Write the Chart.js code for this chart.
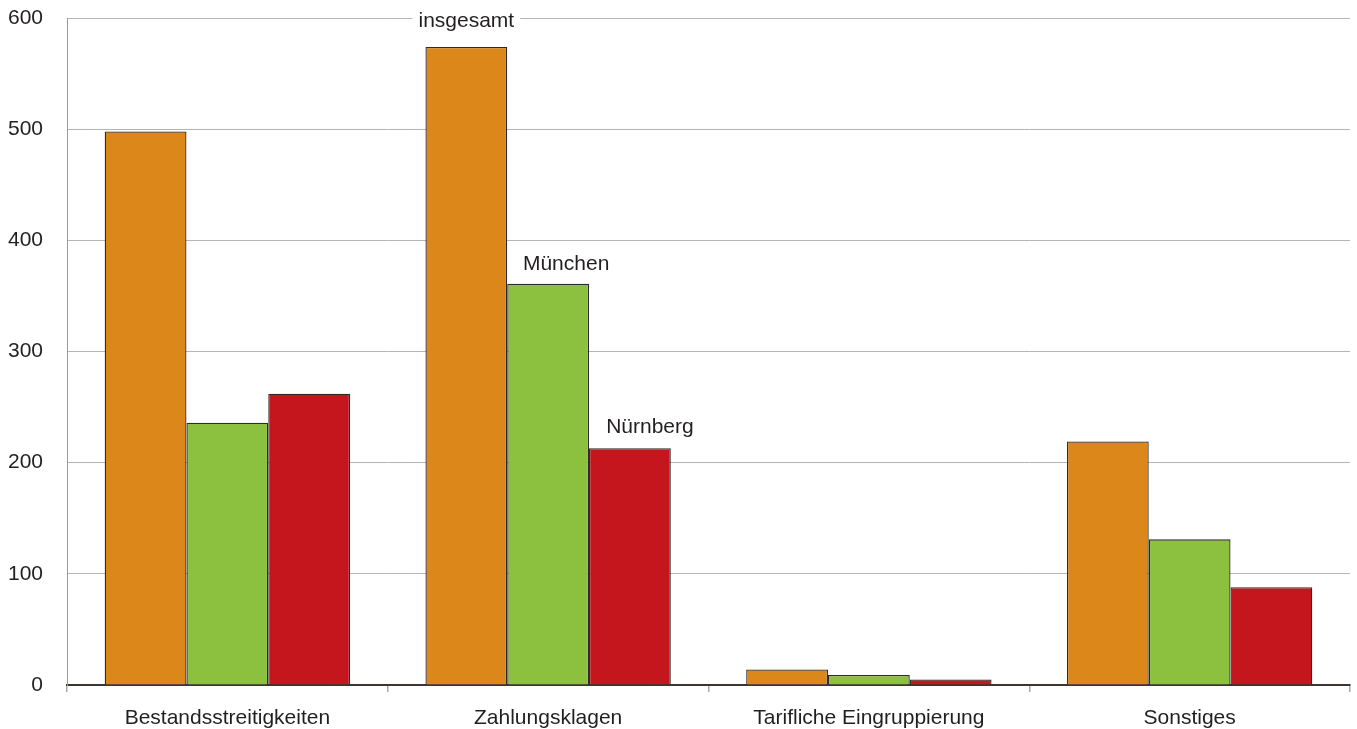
<!DOCTYPE html>
<html lang="de">
<head>
<meta charset="utf-8">
<title>Verfahren nach Gegenstand</title>
<script src="https://cdn.jsdelivr.net/npm/chart.js@4"></script>
<style>
  html, body { margin: 0; padding: 0; background: #fff; }
  #wrap { width: 1357px; height: 729px; }
</style>
</head>
<body>
<div id="wrap"><canvas id="chart" width="1357" height="729"></canvas></div>
<script>
// categories and values per region
const categories = ["Bestandsstreitigkeiten", "Zahlungsklagen", "Tarifliche Eingruppierung", "Sonstiges"];
const insgesamt = [498, 574, 14, 219];
const muenchen = [236, 361, 9, 131];
const nuernberg = [262, 213, 5, 88];
const seriesNames = ["insgesamt", "München", "Nürnberg"];
const yTicks = [0, 100, 200, 300, 400, 500, 600];

const FONT = "'Liberation Sans', Arial, sans-serif";
const TEXT = "#231f20";

// series names written next to the bars of the second category
const seriesLabels = {
  id: "seriesLabels",
  afterDatasetsDraw(chart) {
    const ctx = chart.ctx;
    const y = chart.scales.y;
    const spots = [
      { ds: 0, dx: 0, value: 600, box: true },
      { ds: 1, dx: 18, value: 381 },
      { ds: 2, dx: 20, value: 235 }
    ];
    ctx.save();
    ctx.font = "21px " + FONT;
    ctx.textAlign = "center";
    ctx.textBaseline = "middle";
    spots.forEach(s => {
      const bar = chart.getDatasetMeta(s.ds).data[1];
      const x = bar.x + s.dx;
      const py = y.getPixelForValue(s.value);
      const text = seriesNames[s.ds];
      if (s.box) {
        const w = ctx.measureText(text).width + 12;
        ctx.fillStyle = "#fff";
        ctx.fillRect(x - w / 2, py - 11, w, 22);
      }
      ctx.fillStyle = TEXT;
      ctx.fillText(text, x, py + 3);
    });
    ctx.restore();
  }
};

new Chart(document.getElementById("chart"), {
  type: "bar",
  data: {
    labels: categories,
    datasets: [
      { label: seriesNames[0], data: insgesamt, backgroundColor: "#db8719" },
      { label: seriesNames[1], data: muenchen, backgroundColor: "#8cc13f" },
      { label: seriesNames[2], data: nuernberg, backgroundColor: "#c4161c" }
    ].map(d => Object.assign(d, {
      borderColor: "#2f2a29",
      borderWidth: 1.3,
      borderSkipped: "bottom",
      categoryPercentage: 0.765,
      barPercentage: 1
    }))
  },
  options: {
    responsive: false,
    animation: false,
    layout: { padding: { top: 18, right: 7, left: 0, bottom: 0 } },
    plugins: { legend: { display: false }, tooltip: { enabled: false } },
    scales: {
      x: {
        grid: { drawOnChartArea: false, drawTicks: true, tickLength: 7, color: "#a8a8a8", lineWidth: 1.5, offset: true },
        border: { display: true, color: "#3b3534", width: 2 },
        ticks: { color: TEXT, font: { family: FONT, size: 21 }, padding: 14, maxRotation: 0 },
        afterFit(scale) {
          scale.height = 44;
          scale.paddingLeft = 0;
          scale.paddingRight = 0;
        }
      },
      y: {
        min: 0,
        max: 600,
        afterBuildTicks(scale) { scale.ticks = yTicks.map(v => ({ value: v })); },
        grid: { color: "#b4b4b4", drawTicks: false, lineWidth: 1 },
        border: { display: true, color: "#9a9a9a", width: 1 },
        ticks: { color: TEXT, font: { family: FONT, size: 21 }, padding: 24 },
        afterFit(scale) {
          scale.width = 67;
          scale.paddingTop = 0;
          scale.paddingBottom = 0;
        }
      }
    }
  },
  plugins: [seriesLabels]
});
</script>
</body>
</html>
